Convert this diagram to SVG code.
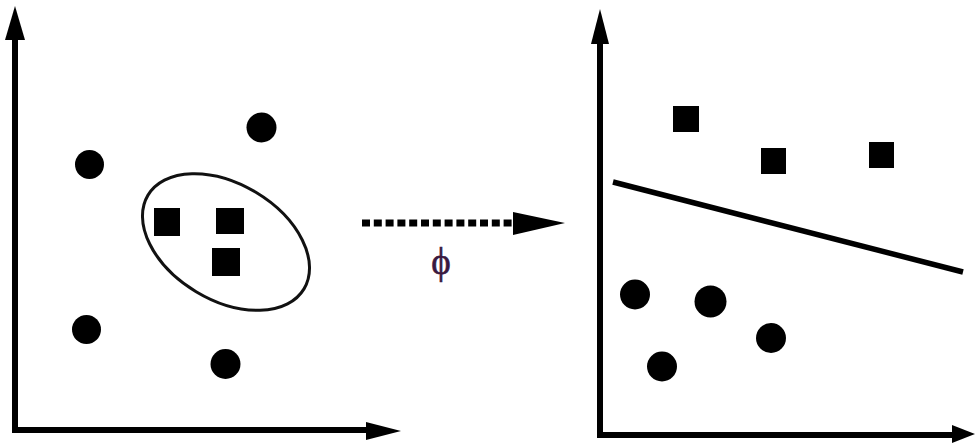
<svg xmlns="http://www.w3.org/2000/svg" width="975" height="445" viewBox="0 0 975 445">
<style>
.ax{stroke:#000;stroke-width:6;fill:none}
.dot{fill:#000}
.sq{fill:#000}
.head{fill:#000}
</style>
<rect width="975" height="445" fill="#fff"/>
<g id="connectors">
<line class="ax" x1="15" y1="36" x2="15" y2="433"/>
<polygon class="head" points="15,6 25,40 5,40"/>
<line class="ax" x1="12" y1="430" x2="370" y2="430"/>
<polygon class="head" points="401,431 366,422 366,440"/>
<line class="ax" x1="600" y1="40" x2="600" y2="438"/>
<polygon class="head" points="600,9 609,44 591,44"/>
<line class="ax" x1="597" y1="435" x2="955" y2="435"/>
<polygon class="head" points="975,434 952,425 952,443"/>
<line x1="362" y1="223" x2="515" y2="223" stroke="#000" stroke-width="7" stroke-dasharray="8,3.8"/>
<polygon class="head" points="513,212 565,223 513,235"/>
<line x1="613" y1="182" x2="963" y2="272" stroke="#000" stroke-width="5.5"/>
</g>
<g id="left-cluster">
<ellipse cx="226" cy="242" rx="91" ry="58" transform="rotate(31 226 242)" fill="none" stroke="#111" stroke-width="3"/>
</g>
<g id="left-points">
<circle class="dot" cx="89.5" cy="164.5" r="14.5"/>
<circle class="dot" cx="261.5" cy="127.5" r="15"/>
<circle class="dot" cx="86.5" cy="329.5" r="14.5"/>
<circle class="dot" cx="225.5" cy="364" r="15"/>
<rect class="sq" x="154" y="208" width="26" height="28"/>
<rect class="sq" x="216" y="208" width="28" height="26"/>
<rect class="sq" x="212" y="248" width="28" height="28"/>
</g>
<g id="right-points">
<rect class="sq" x="673" y="106" width="26" height="26"/>
<rect class="sq" x="761" y="148" width="25" height="26"/>
<rect class="sq" x="869" y="142" width="25" height="26"/>
<circle class="dot" cx="635" cy="294.5" r="15"/>
<circle class="dot" cx="710.5" cy="301.5" r="16"/>
<circle class="dot" cx="771" cy="338" r="15"/>
<circle class="dot" cx="662" cy="366.5" r="15"/>
</g>
<g id="label-phi">
<text x="441" y="274" font-family="Liberation Serif, serif" font-size="37" fill="#3a1840" stroke="#3a1840" stroke-width="0.6" text-anchor="middle">ϕ</text>
</g>
</svg>
